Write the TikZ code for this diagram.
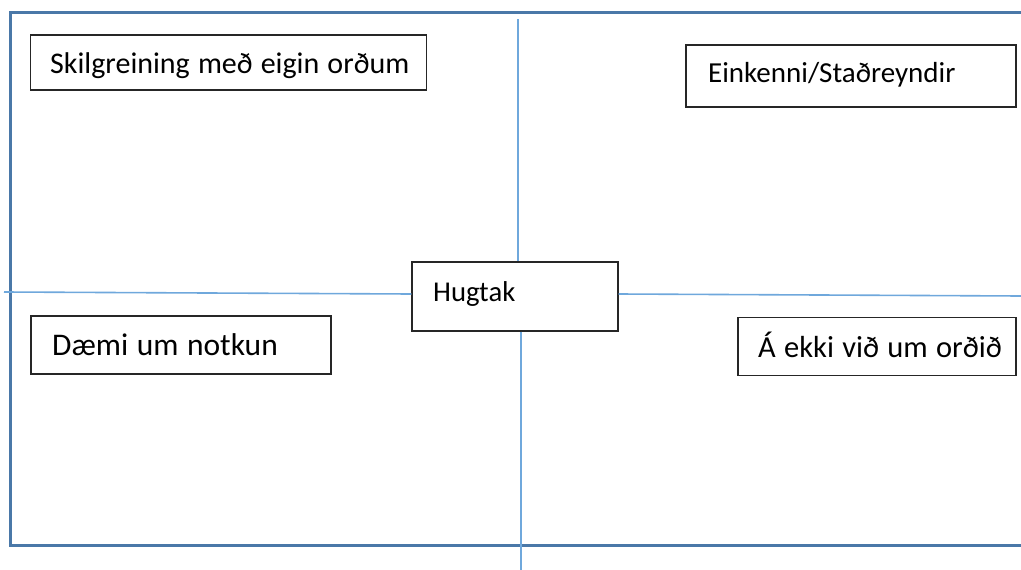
\documentclass[tikz,border=0pt]{standalone}
\usepackage{fontspec}
\setmainfont{Carlito}[WordSpace=1.2]
\definecolor{frame}{HTML}{4A78A8}
\definecolor{axis}{HTML}{6FA8DC}
\tikzset{
  box/.style={draw=black!85, line width=1.2pt, fill=white, inner sep=0pt},
  lbl/.style={anchor=base west, inner sep=0pt, font=\fontsize{28.7}{34}\selectfont},
  fs/.style={font=\fontsize{#1}{34}\selectfont},
  axisline/.style={draw=axis, line width=1.6pt},
}
\begin{document}
\begin{tikzpicture}[x=1pt,y=-1pt]
\useasboundingbox (0,0) rectangle (1021,570);
% axes end points
\coordinate (vt) at (518,19);
\coordinate (vb) at (521,570);
\coordinate (hl) at (4,292);
\coordinate (hr) at (1021,296);
% outer frame
\draw[frame, line width=3pt] (1021,12.5) -- (10,12.5) -- (10,545) -- (1021,545);
% centre box
\node[box, minimum width=206pt, minimum height=69pt] (hug) at (515,296.5) {};
\draw[axisline] (vt) -- (hug.north -| vt);
\draw[axisline] (hug.south -| vb) -- (vb);
\draw[axisline] (hl) -- (hug.west |- 0,294);
\draw[axisline] (hug.east |- 0,294) -- (hr);
\node[lbl] (hugt) at (433,301) {Hugtak};
% boxes
\node[box, minimum width=396pt, minimum height=55pt] (skil) at (228.5,62.5) {};
\node[lbl, fs=30] (skilt) at (50,73) {Skilgreining með eigin orðum};
\node[box, minimum width=330pt, minimum height=62pt] (eink) at (851,76) {};
\node[lbl, fs=29] (einkt) at (708,82) {Einkenni/Staðreyndir};
\node[box, minimum width=300pt, minimum height=58pt] (daemi) at (181,345) {};
\node[lbl, fs=31.5] (daemit) at (52,355) {Dæmi um notkun};
\node[box, minimum width=278pt, minimum height=58pt] (aekki) at (877,346.5) {};
\node[lbl, fs=30.5] (aekkit) at (758,357) {Á ekki við um orðið};
\end{tikzpicture}
\end{document}
